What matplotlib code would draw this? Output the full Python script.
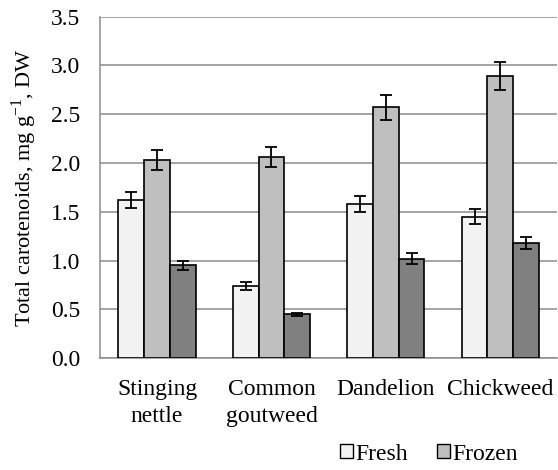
import numpy as np
import matplotlib
matplotlib.use("Agg")
import matplotlib.pyplot as plt
from matplotlib.patches import Patch

plt.rcParams['font.family'] = ['Liberation Serif', 'DejaVu Serif']
plt.rcParams['mathtext.fontset'] = 'custom'
plt.rcParams['mathtext.rm'] = 'Liberation Serif'

# carotenoid content per plant, mg g-1 DW
plants = ["Stinging\nnettle", "Common\ngoutweed", "Dandelion", "Chickweed"]
fresh = [1.62, 0.74, 1.58, 1.45]
fresh_err = [0.08, 0.04, 0.08, 0.075]
frozen = [2.03, 2.06, 2.57, 2.89]
frozen_err = [0.105, 0.10, 0.13, 0.145]
dried = [0.95, 0.45, 1.02, 1.18]
dried_err = [0.045, 0.015, 0.055, 0.06]

series = [
    ("Fresh", fresh, fresh_err, "#f2f2f2"),
    ("Frozen", frozen, frozen_err, "#bfbfbf"),
    (None, dried, dried_err, "#808080"),
]

FS = 17

fig = plt.figure(figsize=(5.58, 4.70), dpi=100)
ax = fig.add_axes([0.179, 0.238, 0.82, 0.7265])

x = np.arange(len(plants))
w = 0.225
for i, (name, vals, errs, col) in enumerate(series):
    ax.bar(x + (i - 1) * w, vals, w, color=col, edgecolor="black", linewidth=1.2, zorder=3,
           yerr=errs, error_kw=dict(ecolor="black", elinewidth=1.3, capsize=4, capthick=1.3))

ax.set_ylim(0, 3.5)
ax.set_yticks(np.arange(0, 3.51, 0.5))
ax.set_yticklabels([f"{v:.1f}" for v in np.arange(0, 3.51, 0.5)], fontsize=FS)
ax.set_xlim(-0.5, len(plants) - 0.5)
ax.set_xticks(x)
ax.set_xticklabels(plants, fontsize=FS, linespacing=1.38)
ax.tick_params(axis="y", length=0, pad=14)
ax.tick_params(axis="x", length=0, pad=15)
ax.yaxis.grid(True, color="#8c8c8c", linewidth=1.1, zorder=0)
ax.set_axisbelow(True)
for s in ["top", "right"]:
    ax.spines[s].set_visible(False)
for s in ["left", "bottom"]:
    ax.spines[s].set_color("#8c8c8c")
    ax.spines[s].set_linewidth(1.1)
ax.set_ylabel(r"Total carotenoids, mg g$^{\mathregular{-1}}$, DW", fontsize=16, labelpad=9)

handles = [Patch(facecolor=col, edgecolor="black", linewidth=1.0, label=name)
           for name, _, _, col in series if name]
fig.legend(handles=handles, loc="center left", bbox_to_anchor=(0.61, 0.034), ncol=2,
           frameon=False, fontsize=FS, handlelength=0.55, handleheight=0.55,
           handletextpad=0.1, columnspacing=1.2, borderaxespad=0, borderpad=0)

fig.savefig("out.png", dpi=100)
